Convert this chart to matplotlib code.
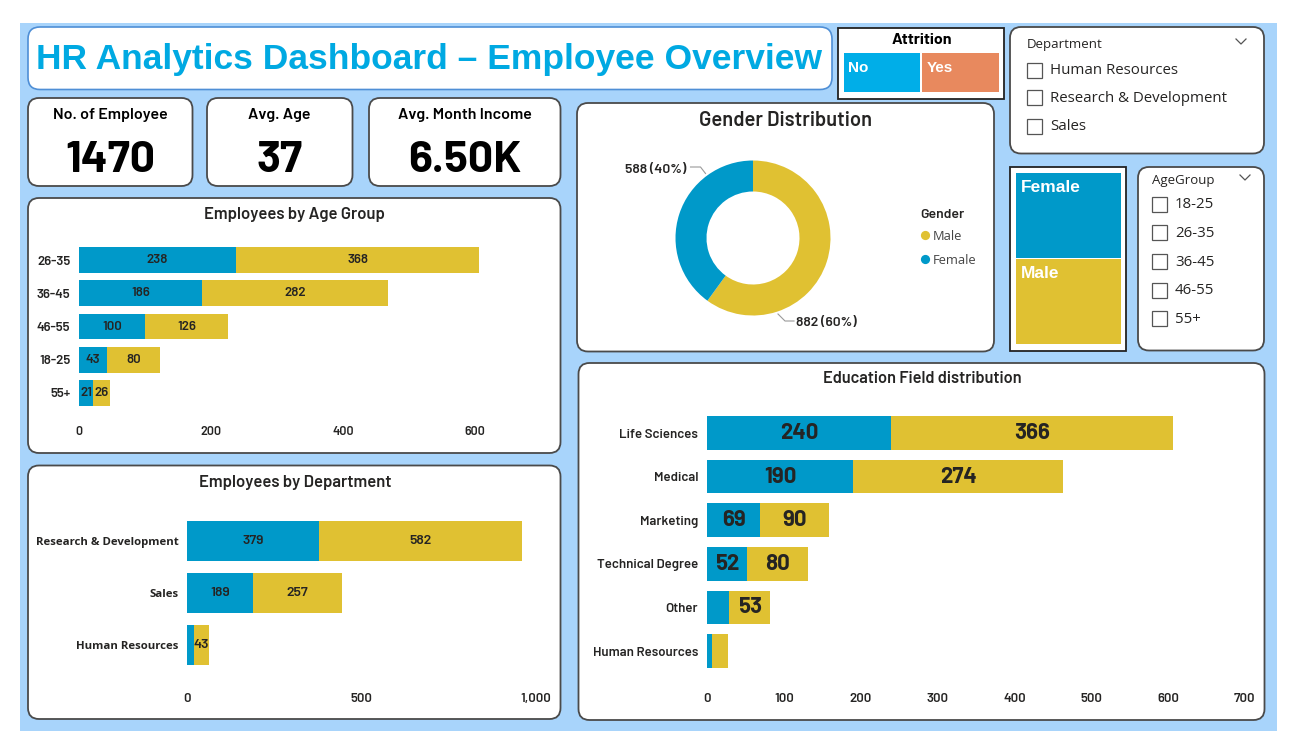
import matplotlib
matplotlib.use('Agg')
import matplotlib.pyplot as plt
from matplotlib.patches import FancyBboxPatch, Rectangle, Circle
import numpy as np

# ---------------- data ----------------
kpi_titles = ['No. of Employee', 'Avg. Age', 'Avg. Month Income']
kpi_values = ['1470', '37', '6.50K']

age_groups = ['26-35', '36-45', '46-55', '18-25', '55+']
age_female = [238, 186, 100, 43, 21]
age_male = [368, 282, 126, 80, 26]
age_ticks = [0, 200, 400, 600]

dept_names = ['Research & Development', 'Sales', 'Human Resources']
dept_female = [379, 189, 20]
dept_male = [582, 257, 43]
dept_ticks = [0, 500, 1000]
dept_tick_labels = ['0', '500', '1,000']

edu_fields = ['Life Sciences', 'Medical', 'Marketing', 'Technical Degree', 'Other', 'Human Resources']
edu_female = [240, 190, 69, 52, 29, 7]
edu_male = [366, 274, 90, 80, 53, 20]
edu_ticks = [0, 100, 200, 300, 400, 500, 600, 700]

gender_labels = ['Male', 'Female']
gender_counts = [882, 588]

attrition_opts = ['No', 'Yes']
dept_slicer = ['Human Resources', 'Research & Development', 'Sales']
age_slicer = ['18-25', '26-35', '36-45', '46-55', '55+']
treemap_labels = ['Female', 'Male']

# ---------------- style ----------------
BLUE = '#0099C9'
YEL = '#E0C132'
BG = '#A8D4FB'
TITLE_BLUE = '#00A9E2'
NO_COL = '#00AEE8'
YES_COL = '#E8895E'
DARK = '#252423'
EDGE = '#4a4a4a'

COND = ['Barlow', 'Roboto Condensed', 'DejaVu Sans']
UI = ['Open Sans', 'DejaVu Sans']
ARIAL = ['Liberation Sans', 'DejaVu Sans']

W, H = 1302, 754
fig = plt.figure(figsize=(W / 100, H / 100), dpi=100)
bg = fig.add_axes([0, 0, 1, 1])
bg.set_xlim(0, W)
bg.set_ylim(H, 0)
bg.axis('off')


def px_axes(x0, y0, x1, y1):
    return fig.add_axes([x0 / W, 1 - y1 / H, (x1 - x0) / W, (y1 - y0) / H])


def rbox(x0, y0, x1, y1, r=11, ec=EDGE, lw=1.3, fc='white'):
    bg.add_patch(FancyBboxPatch((x0, y0), x1 - x0, y1 - y0,
                                boxstyle=f"round,pad=0,rounding_size={r}",
                                fc=fc, ec=ec, lw=lw))


def sbox(x0, y0, x1, y1, ec='#222222', lw=1.3, fc='white'):
    bg.add_patch(Rectangle((x0, y0), x1 - x0, y1 - y0, fc=fc, ec=ec, lw=lw))


def chevron(x, y):
    bg.plot([x - 5, x, x + 5], [y - 3, y + 2, y - 3], color='#555555', lw=0.9)


# background panel
bg.add_patch(Rectangle((19.5, 23), 1277 - 19.5, 731 - 23, fc=BG, ec='none'))

# title
rbox(28, 27, 832, 89.5, r=12, ec='#4f8fd6', lw=1.2)
bg.text(429, 60, 'HR Analytics Dashboard \u2013 Employee Overview', ha='center', va='center',
        fontsize=25.5, fontweight='bold', color=TITLE_BLUE, family=ARIAL)

# attrition
sbox(838, 28, 1004, 98.5)
bg.text(921.5, 40, 'Attrition', ha='center', va='center', fontsize=11.5, fontweight='bold',
        color='black', family=COND)
for i, (lab, col) in enumerate(zip(attrition_opts, [NO_COL, YES_COL])):
    x0 = 843.5 + i * 78.5
    bg.add_patch(Rectangle((x0, 52.5), 76.5, 39.5, fc=col, ec='none'))
    bg.text(x0 + 4.5, 68, lab, ha='left', va='center', fontsize=11, fontweight='bold',
            color='white', family=ARIAL)

# department slicer
rbox(1010, 27, 1264, 153.5)
bg.text(1026.5, 44.5, 'Department', ha='left', va='center', fontsize=9.5, color=DARK, family=UI)
chevron(1241, 42)
for i, lab in enumerate(dept_slicer):
    yy = [70, 97.7, 126.5][i]
    bg.add_patch(Rectangle((1027, yy - 7.5), 15, 15, fc='white', ec='#555555', lw=0.9))
    bg.text(1050, yy + 0.5, lab, ha='left', va='center', fontsize=10.8, color=DARK, family=UI)

# KPI cards
kpi_boxes = [(28, 98, 192.5, 186), (207, 98, 352.5, 186), (369, 98, 560.5, 186)]
for (x0, y0, x1, y1), t, v in zip(kpi_boxes, kpi_titles, kpi_values):
    rbox(x0, y0, x1, y1)
    cx = (x0 + x1) / 2
    bg.text(cx, 115, t, ha='center', va='center', fontsize=11.5, fontweight='semibold', color='black', family=COND)
    bg.text(cx, 160, v, ha='center', va='center', fontsize=32, fontweight='bold', color='black', family=COND)

# ---------------- gender donut ----------------
rbox(577, 103, 994, 351.5)
bg.text(786, 121, 'Gender Distribution', ha='center', va='center', fontsize=14.5, fontweight='semibold',
        color=DARK, family=COND)
cx, cy, R = 753, 238, 77.5
axp = px_axes(cx - 80, cy - 80, cx + 80, cy + 80)
axp.pie(gender_counts, colors=[YEL, BLUE], startangle=90, counterclock=False, radius=1,
        wedgeprops=dict(width=0.40, edgecolor='none'))
axp.set_xlim(-80 / R, 80 / R)
axp.set_ylim(-80 / R, 80 / R)
axp.set_aspect('equal')
axp.axis('off')
tot = sum(gender_counts)
male_lab = f"{gender_counts[0]} ({round(100 * gender_counts[0] / tot)}%)"
fem_lab = f"{gender_counts[1]} ({round(100 * gender_counts[1] / tot)}%)"
bg.plot([690.5, 700.5, 705.5], [167, 167, 173.5], color='#9a9a9a', lw=0.8)
bg.text(686, 169.5, fem_lab, ha='right', va='center', fontsize=10, fontweight='semibold', color=DARK, family=COND)
bg.plot([778, 785, 794], [314, 321, 321], color='#9a9a9a', lw=0.8)
bg.text(796, 323, male_lab, ha='left', va='center', fontsize=10, fontweight='semibold', color=DARK, family=COND)
# legend
bg.text(920, 215.5, 'Gender', ha='left', va='center', fontsize=10, fontweight='semibold', color=DARK, family=COND)
for i, (lab, col) in enumerate(zip(gender_labels, [YEL, BLUE])):
    yy = 235.5 + i * 24
    bg.add_patch(Circle((925.5, yy), 4.6, fc=col, ec='none'))
    bg.text(932.5, yy + 0.5, lab, ha='left', va='center', fontsize=9.3, color='#444444', family=UI)

# treemap
sbox(1010, 167, 1126, 350.5)
for i, (lab, col) in enumerate(zip(treemap_labels, [BLUE, YEL])):
    y0 = [172.5, 259][i]
    bg.add_patch(Rectangle((1015.5, y0), 105, 85, fc=col, ec='none'))
    bg.text(1020.5, y0 + 15, lab, ha='left', va='center', fontsize=12.5, fontweight='bold', color='white', family=ARIAL)

# age slicer
rbox(1138, 167, 1264, 350.5)
bg.text(1151.5, 180.5, 'AgeGroup', ha='left', va='center', fontsize=9.5, color=DARK, family=UI)
chevron(1245, 178)
for i, lab in enumerate(age_slicer):
    yy = 204.3 + i * 28.6
    bg.add_patch(Rectangle((1152, yy - 7.5), 15, 15, fc='white', ec='#555555', lw=0.9))
    bg.text(1175, yy + 0.5, lab, ha='left', va='center', fontsize=10.8, color=DARK, family=UI)


# ---------------- bar charts ----------------
def hbar(rect, cats, fem, mal, xmax, ticks, tlabels, cat_family, cat_weight, cat_fs, val_fs, val_weight,
         tick_fs, tick_pad, min_label):
    ax = px_axes(*rect)
    y = np.arange(len(cats))
    fem = np.array(fem)
    mal = np.array(mal)
    ax.barh(y, fem, height=0.77, color=BLUE)
    ax.barh(y, mal, left=fem, height=0.77, color=YEL)
    for i in range(len(cats)):
        if fem[i] >= min_label:
            ax.text(fem[i] / 2, i, str(fem[i]), ha='center', va='center', fontsize=val_fs,
                    fontweight=val_weight, color=DARK, family=COND)
        if mal[i] >= min_label:
            ax.text(fem[i] + mal[i] / 2, i, str(mal[i]), ha='center', va='center', fontsize=val_fs,
                    fontweight=val_weight, color=DARK, family=COND)
    ax.set_xlim(0, xmax)
    ax.set_ylim(len(cats) - 0.5, -0.5)
    ax.set_yticks(y)
    ax.set_yticklabels(cats, fontsize=cat_fs, fontweight=cat_weight, family=cat_family, color=DARK)
    ax.set_xticks(ticks)
    ax.set_xticklabels(tlabels, fontsize=tick_fs, fontweight='semibold', family=COND, color=DARK)
    ax.tick_params(length=0)
    ax.tick_params(axis='x', pad=tick_pad)
    ax.tick_params(axis='y', pad=6.3)
    for s in ax.spines.values():
        s.set_visible(False)
    ax.patch.set_alpha(0)
    return ax


# age group
rbox(28, 198, 560.5, 453)
bg.text(294.5, 214.5, 'Employees by Age Group', ha='center', va='center', fontsize=12, fontweight='semibold',
        color=DARK, family=COND)
s_age = (475 - 79) / 600
hbar((79, 243.4, 79 + 700 * s_age, 409.6), age_groups, age_female, age_male, 700, age_ticks,
     [str(t) for t in age_ticks], COND, 'semibold', 9.5, 9.5, 'semibold', 9, 11.5, 0)

# department
rbox(28, 465.5, 560.5, 719)
bg.text(295, 482, 'Employees by Department', ha='center', va='center', fontsize=12, fontweight='semibold',
        color=DARK, family=COND)
s_dep = (535.6 - 187) / 1000
hbar((187, 515, 187 + 1050 * s_dep, 671), dept_names, dept_female, dept_male, 1050, dept_ticks,
     dept_tick_labels, UI, 'bold', 8.2, 10, 'semibold', 9.5, 15.5, 30)

# education
rbox(578.5, 363, 1264.5, 720)
bg.text(922, 378.5, 'Education Field distribution', ha='center', va='center', fontsize=11.8,
        fontweight='semibold', color=DARK, family=COND)
s_edu = (1244.8 - 707) / 700
hbar((707, 411.2, 707 + 722 * s_edu, 672.8), edu_fields, edu_female, edu_male, 722, edu_ticks,
     [str(t) for t in edu_ticks], COND, 'semibold', 9.5, 16, 'bold', 9.5, 14.5, 30)

fig.savefig('out.png', dpi=100)
